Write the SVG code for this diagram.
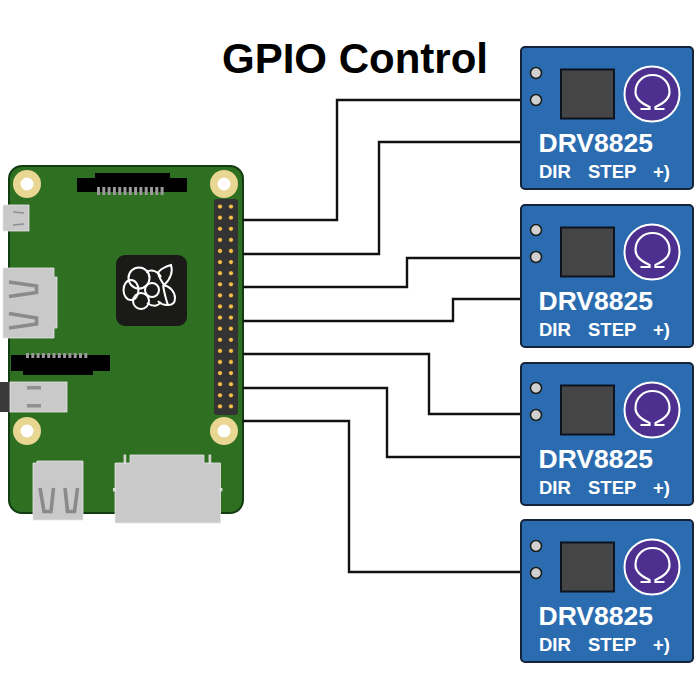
<svg xmlns="http://www.w3.org/2000/svg" xmlns:xlink="http://www.w3.org/1999/xlink" width="700" height="700" viewBox="0 0 700 700">
<style>
.wire{fill:none;stroke:#111;stroke-width:2.4}
.metal{fill:#c9c9c9;stroke:#e6e6e6;stroke-width:.8}
.slot{fill:#8f8f8f}
.vee{fill:none;stroke:#8a8a8a;stroke-width:3.6}
.blk{fill:#000}
.hole{fill:#e8d692}
.holec{fill:#fff}
.pin{fill:#f7c04a;stroke:#222;stroke-width:.5}
.gold{fill:#9a9a9a}
text{font-family:"Liberation Sans",Arial,sans-serif}
.t{font-size:42px;font-weight:700;fill:#000}
.n{font-size:26.500px;font-weight:700;fill:#fff}
.s{font-size:18.500px;font-weight:700;fill:#fff}
.logo{fill:none;stroke:#fff;stroke-width:2}
</style>
<defs>
<g id="driver">
<rect x="0" y="0" width="172" height="142" rx="4" fill="#2b6cb0" stroke="#14233a" stroke-width="2"/>
<rect x="40" y="22.500" width="53" height="49" fill="#454545" stroke="#0c1420" stroke-width="2"/>
<circle cx="131" cy="47" r="27.500" fill="#4c2f8f" stroke="#fff" stroke-width="2"/>
<path d="M119.500 62H128.500V60C120.500 56 114.500 52 114.500 45C114.500 35 122 28 131.500 28C141 28 148.500 35 148.500 45C148.500 52 142.500 56 134.500 60V62H143.500" fill="none" stroke="#fff" stroke-width="2.200"/>
<text class="n" x="17.500" y="105">DRV8825</text>
<text class="s" x="18" y="131">DIR</text>
<text class="s" x="67" y="131">STEP</text>
<text class="s" x="132" y="131">+)</text>
</g>
<circle id="via" r="5.500" fill="#d0d0d0" stroke="#1a1a1a" stroke-width="1.500"/>
</defs>
<rect width="700" height="700" fill="#fff"/>
<text class="t" x="222" y="73">GPIO Control</text>
<g id="raspberry-pi">
<rect x="9" y="166" width="234" height="347" rx="13" fill="#2f6f22" stroke="#123d12" stroke-width="2"/>
<g id="mount-holes">
<circle class="hole" cx="27" cy="184" r="14"/><circle class="holec" cx="27" cy="184" r="6.500"/>
<circle class="hole" cx="224" cy="184" r="14"/><circle class="holec" cx="224" cy="184" r="6.500"/>
<circle class="hole" cx="27" cy="431" r="14"/><circle class="holec" cx="27" cy="431" r="6.500"/>
<circle class="hole" cx="224" cy="431" r="14"/><circle class="holec" cx="224" cy="431" r="6.500"/>
</g>
<g id="camera-top">
<path class="blk" d="M95 173h75v5h17v14h-110v-14h18z"/>
<path class="gold" d="M97 187h3v8h-3zM102.300 187h3v8h-3zM107.600 187h3v8h-3zM112.900 187h3v8h-3zM118.200 187h3v8h-3zM123.500 187h3v8h-3zM128.800 187h3v8h-3zM134.100 187h3v8h-3zM139.400 187h3v8h-3zM144.700 187h3v8h-3zM150 187h3v8h-3zM155.300 187h3v8h-3zM160.600 187h3v8h-3z"/>
</g>
<g id="micro-usb">
<rect class="metal" x="3" y="205" width="26" height="26"/>
<path d="M13 212l11 1M13 225l11-1" stroke="#8f8f8f" stroke-width="1.500" fill="none"/>
</g>
<g id="hdmi">
<path class="metal" d="M3 268h51v9h3v51h-3v10h-51z"/>
<path class="vee" d="M9 282L36.500 286V292.500L9 296.500"/>
<path class="vee" d="M9 313.500L36.500 318V324L9 328"/>
</g>
<g id="soc-logo">
<rect x="116" y="255" width="71" height="71" rx="9" fill="#1a1a18"/>
<g class="logo">
<circle cx="139" cy="278" r="10.500"/>
<ellipse cx="131" cy="290" rx="7.500" ry="10"/>
<circle cx="141" cy="301" r="8"/>
<circle cx="152" cy="290" r="7"/>
<path d="M146 272c6-3 12-1 15 5M147 303c6 4 11 3 14-1"/>
<path d="M158 273c1-3 8-7 13-8 2 6 0 14-7 20-2-3-5-8-6-12z"/>
<path d="M163 285c7 1 12 7 12 13 0 5-3 7-7 7-4 0-8-1-10-4M163 285c1 6 2 12 5 20"/>
</g>
</g>
<g id="gpio">
<rect x="214" y="199" width="24" height="216" rx="3" fill="#333"/>
<g id="pins">
<circle class="pin" cx="220" cy="206.600" r="2.400"/><circle class="pin" cx="231" cy="206.600" r="2.400"/>
<circle class="pin" cx="220" cy="217.700" r="2.400"/><circle class="pin" cx="231" cy="217.700" r="2.400"/>
<circle class="pin" cx="220" cy="228.800" r="2.400"/><circle class="pin" cx="231" cy="228.800" r="2.400"/>
<circle class="pin" cx="220" cy="239.900" r="2.400"/><circle class="pin" cx="231" cy="239.900" r="2.400"/>
<circle class="pin" cx="220" cy="251" r="2.400"/><circle class="pin" cx="231" cy="251" r="2.400"/>
<circle class="pin" cx="220" cy="262.100" r="2.400"/><circle class="pin" cx="231" cy="262.100" r="2.400"/>
<circle class="pin" cx="220" cy="273.200" r="2.400"/><circle class="pin" cx="231" cy="273.200" r="2.400"/>
<circle class="pin" cx="220" cy="284.300" r="2.400"/><circle class="pin" cx="231" cy="284.300" r="2.400"/>
<circle class="pin" cx="220" cy="295.400" r="2.400"/><circle class="pin" cx="231" cy="295.400" r="2.400"/>
<circle class="pin" cx="220" cy="306.500" r="2.400"/><circle class="pin" cx="231" cy="306.500" r="2.400"/>
<circle class="pin" cx="220" cy="317.600" r="2.400"/><circle class="pin" cx="231" cy="317.600" r="2.400"/>
<circle class="pin" cx="220" cy="328.700" r="2.400"/><circle class="pin" cx="231" cy="328.700" r="2.400"/>
<circle class="pin" cx="220" cy="339.800" r="2.400"/><circle class="pin" cx="231" cy="339.800" r="2.400"/>
<circle class="pin" cx="220" cy="350.900" r="2.400"/><circle class="pin" cx="231" cy="350.900" r="2.400"/>
<circle class="pin" cx="220" cy="362" r="2.400"/><circle class="pin" cx="231" cy="362" r="2.400"/>
<circle class="pin" cx="220" cy="373.100" r="2.400"/><circle class="pin" cx="231" cy="373.100" r="2.400"/>
<circle class="pin" cx="220" cy="384.200" r="2.400"/><circle class="pin" cx="231" cy="384.200" r="2.400"/>
<circle class="pin" cx="220" cy="395.300" r="2.400"/><circle class="pin" cx="231" cy="395.300" r="2.400"/>
<circle class="pin" cx="220" cy="406.400" r="2.400"/><circle class="pin" cx="231" cy="406.400" r="2.400"/>
</g>
</g>
<g id="display-connector">
<path class="blk" d="M11 355h99v16h-17v4h-70v-4h-12z"/>
<path class="gold" d="M26 358h3v-5h-3zM31.300 358h3v-5h-3zM36.600 358h3v-5h-3zM41.900 358h3v-5h-3zM47.200 358h3v-5h-3zM52.500 358h3v-5h-3zM57.800 358h3v-5h-3zM63.100 358h3v-5h-3zM68.400 358h3v-5h-3zM73.700 358h3v-5h-3zM79 358h3v-5h-3zM84.300 358h3v-5h-3z"/>
</g>
<g id="audio-jack">
<rect x="0" y="382" width="10" height="30" fill="#3a3a3a"/>
<rect class="metal" x="10" y="382" width="57" height="30"/>
<rect class="slot" x="27" y="386" width="14" height="3.500"/>
<rect class="slot" x="27" y="404" width="14" height="3.500"/>
</g>
<g id="usb">
<path class="metal" d="M33 463h4v-2h46v59h-50z"/>
<path class="vee" d="M40 488L44 511.500H51L53.500 488"/>
<path class="vee" d="M65 488L67.500 511.500H74.500L77.500 488"/>
</g>
<g id="sd-slot">
<path class="metal" d="M115 463h15v-8h74v8h16.500v60h-105.500z"/>
<rect class="metal" x="124" y="455" width="1.800" height="8"/>
<rect class="metal" x="209" y="455" width="1.800" height="8"/>
<rect class="metal" x="113.500" y="488.500" width="2" height="2.500"/>
<rect class="metal" x="220" y="488.500" width="2" height="2.500"/>
</g>
</g>
<g id="connectors">
<path class="wire" d="M243 220H337V100H521"/>
<path class="wire" d="M243 254H379V142H521"/>
<path class="wire" d="M243 287H407V258H521"/>
<path class="wire" d="M243 321H453V299H521"/>
<path class="wire" d="M243 354H429V414H521"/>
<path class="wire" d="M243 388H387V457H521"/>
<path class="wire" d="M243 421H349V572H521"/>
</g>
<g id="driver-1"><use href="#driver" x="521" y="47"/><use href="#via" x="536" y="73"/><use href="#via" x="536" y="100"/></g>
<g id="driver-2"><use href="#driver" x="521" y="205"/><use href="#via" x="536" y="230"/><use href="#via" x="536" y="257"/></g>
<g id="driver-3"><use href="#driver" x="521" y="363"/><use href="#via" x="536" y="388"/><use href="#via" x="536" y="415"/></g>
<g id="driver-4"><use href="#driver" x="521" y="520"/><use href="#via" x="536" y="546"/><use href="#via" x="536" y="573"/></g>
</svg>
